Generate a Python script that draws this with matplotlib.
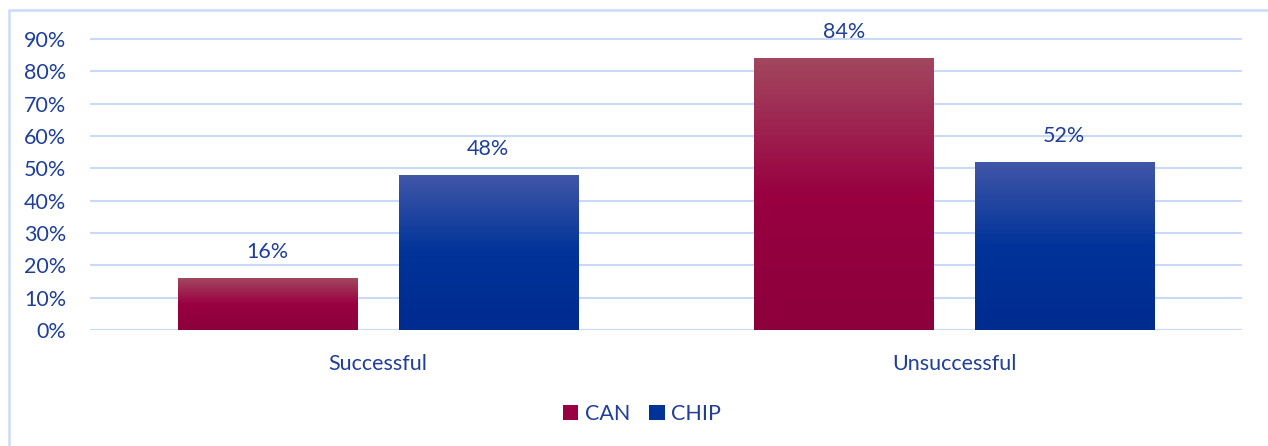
import numpy as np
import matplotlib.pyplot as plt
from matplotlib.colors import LinearSegmentedColormap
from matplotlib.patches import Patch
from matplotlib.lines import Line2D
from matplotlib.ticker import PercentFormatter

categories = ["Successful", "Unsuccessful"]
series_names = ["CAN", "CHIP"]
can_values = [16, 84]
chip_values = [48, 52]

text_color = "#1F3F99"
grid_color = "#C9DAF8"
# top, middle, bottom of each gradient
can_colors = ["#A2475F", "#990041", "#8C003C"]
chip_colors = ["#4257A8", "#003399", "#002B8F"]

plt.rcParams['font.family'] = ['Lato', 'DejaVu Sans']

fig = plt.figure(figsize=(12.68, 4.46), dpi=100)
ax = fig.add_axes([90 / 1268, 1 - 330 / 446, (1242 - 90) / 1268, (330 - 39) / 446 * 100 / 90])

x = np.arange(len(categories))
width = 0.311
offset = 0.1915
fs = 15.5


def gradient_bars(xpos, values, colors):
    cmap = LinearSegmentedColormap.from_list("g", colors[::-1])
    bars = ax.bar(xpos, values, width, color="none", edgecolor="none", zorder=2)
    grad = np.linspace(0, 1, 256).reshape(-1, 1)
    for b in bars:
        x0, y0 = b.get_x(), b.get_y()
        im = ax.imshow(grad, cmap=cmap, origin="lower", aspect="auto",
                       extent=[x0, x0 + b.get_width(), y0, y0 + b.get_height()],
                       zorder=2)
        im.set_clip_path(b)
    for xv, v in zip(xpos, values):
        ax.text(xv, v + 5, f"{v}%", ha="center", va="bottom",
                fontsize=fs, color=text_color, zorder=3)
    return bars


gradient_bars(x - offset, can_values, can_colors)
gradient_bars(x + offset, chip_values, chip_colors)

ax.set_xlim(-0.5, 1.5)
ax.set_ylim(0, 100)
ax.set_yticks(np.arange(0, 91, 10))
ax.yaxis.set_major_formatter(PercentFormatter(decimals=0))
ax.set_xticks(x)
ax.set_xticklabels(categories)
ax.tick_params(axis="both", length=0, labelsize=fs, labelcolor=text_color)
ax.tick_params(axis="y", pad=17)
ax.tick_params(axis="x", pad=17)
ax.grid(axis="y", color=grid_color, linewidth=1.5, zorder=0)
ax.set_axisbelow(True)
for s in ax.spines.values():
    s.set_visible(False)
ax.set_facecolor("none")

handles = [Patch(facecolor=can_colors[1]), Patch(facecolor=chip_colors[1])]
fig.legend(handles, series_names, loc="center", bbox_to_anchor=(0.5 + 8 / 1268, 1 - 414 / 446),
           ncol=2, frameon=False, fontsize=fs, labelcolor=text_color,
           handlelength=0.7, handleheight=0.7, handletextpad=0.3, columnspacing=0.9)

# partial chart border (left and top)
fig.add_artist(Line2D([8.5 / 1268, 8.5 / 1268, 1.0], [0.0, 1 - 9.5 / 446, 1 - 9.5 / 446],
                      transform=fig.transFigure, color=grid_color, linewidth=1.8))

fig.savefig("out.png", dpi=100)
